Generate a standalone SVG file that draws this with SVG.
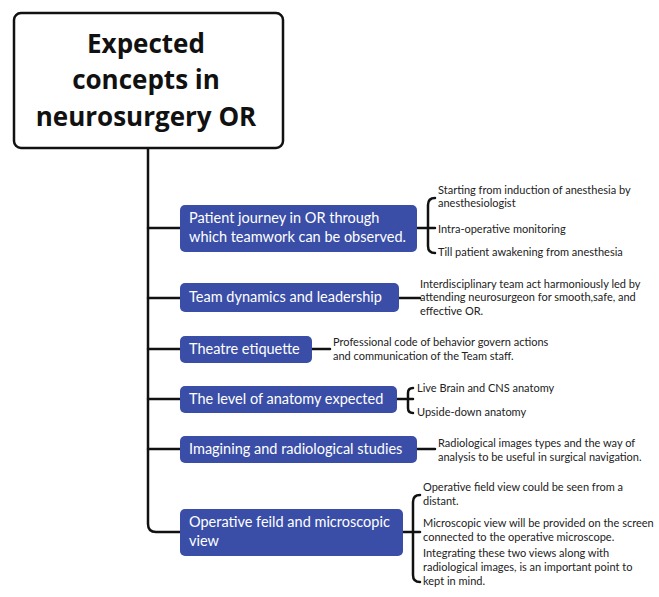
<svg xmlns="http://www.w3.org/2000/svg" width="659" height="597" viewBox="0 0 659 597">
<style>
.c{fill:none;stroke:#111;stroke-width:2.5;stroke-linecap:round;stroke-linejoin:round}
.b{fill:#3a4ea7}
.bt{font-family:Lato,"Open Sans",sans-serif;font-size:14.5px;fill:#fff}
.t{font-family:Lato,"Open Sans",sans-serif;font-size:11px;fill:#222}
.r{font-family:"Open Sans",Lato,sans-serif;font-size:26px;font-weight:bold;fill:#111;text-anchor:middle}
</style>
<rect width="659" height="597" fill="#fff"/>
<g id="connectors">
<path class="c" d="M148 149 V524 Q148 532 156 532 H180"/>
<path class="c" d="M148 228 H180 M148 298 H180 M148 349 H180 M148 399 H180 M148 449 H180"/>
<path class="c" d="M417 228 H435 M435 198 Q428 198 428 205 V246 Q428 253 435 253"/>
<path class="c" d="M399 298 H420"/>
<path class="c" d="M312 349 H330"/>
<path class="c" d="M397 399 H413 M413 388 Q408 388 408 393 V408 Q408 413 413 413"/>
<path class="c" d="M417 449 H435"/>
<path class="c" d="M403 532 H420 M420 495 Q413 495 413 502 V575 Q413 582 420 582"/>
</g>
<g id="root">
<rect x="14" y="13" width="269" height="135" rx="7" fill="#fff" stroke="#111" stroke-width="2.5"/>
<text class="r" x="146" y="53">Expected</text>
<text class="r" x="146" y="89">concepts in</text>
<text class="r" x="146" y="126">neurosurgery OR</text>
</g>
<g id="n1">
<rect class="b" x="180" y="205" width="237" height="47" rx="5"/>
<text class="bt" x="189" y="223">Patient journey in OR through</text>
<text class="bt" x="189" y="242">which teamwork can be observed.</text>
</g>
<g id="n1d">
<text class="t" x="438" y="194">Starting from induction of anesthesia by</text>
<text class="t" x="438" y="207">anesthesiologist</text>
<text class="t" x="438" y="233">Intra-operative monitoring</text>
<text class="t" x="438" y="256">Till patient awakening from anesthesia</text>
</g>
<g id="n2">
<rect class="b" x="180" y="283" width="219" height="29" rx="5"/>
<text class="bt" x="189" y="302">Team dynamics and leadership</text>
</g>
<g id="n2d">
<text class="t" x="420" y="288">Interdisciplinary team act harmoniously led by</text>
<text class="t" x="420" y="301">attending neurosurgeon for smooth,safe, and</text>
<text class="t" x="420" y="315">effective OR.</text>
</g>
<g id="n3">
<rect class="b" x="180" y="336" width="132" height="27" rx="5"/>
<text class="bt" x="189" y="354">Theatre etiquette</text>
</g>
<g id="n3d">
<text class="t" x="333" y="346">Professional code of behavior govern actions</text>
<text class="t" x="333" y="360">and communication of the Team staff.</text>
</g>
<g id="n4">
<rect class="b" x="180" y="386" width="217" height="27" rx="5"/>
<text class="bt" x="189" y="404">The level of anatomy expected</text>
</g>
<g id="n4d">
<text class="t" x="417" y="392">Live Brain and CNS anatomy</text>
<text class="t" x="417" y="416">Upside-down anatomy</text>
</g>
<g id="n5">
<rect class="b" x="180" y="436" width="237" height="27" rx="5"/>
<text class="bt" x="189" y="454">Imagining and radiological studies</text>
</g>
<g id="n5d">
<text class="t" x="438" y="447">Radiological images types and the way of</text>
<text class="t" x="438" y="461">analysis to be useful in surgical navigation.</text>
</g>
<g id="n6">
<rect class="b" x="180" y="509" width="223" height="47" rx="5"/>
<text class="bt" x="189" y="527">Operative feild and microscopic</text>
<text class="bt" x="189" y="546">view</text>
</g>
<g id="n6d">
<text class="t" x="423" y="491">Operative field view could be seen from a</text>
<text class="t" x="423" y="505">distant.</text>
<text class="t" x="423" y="527">Microscopic view will be provided on the screen</text>
<text class="t" x="423" y="541">connected to the operative microscope.</text>
<text class="t" x="423" y="557">Integrating these two views along with</text>
<text class="t" x="423" y="571">radiological images, is an important point to</text>
<text class="t" x="423" y="585">kept in mind.</text>
</g>
</svg>
